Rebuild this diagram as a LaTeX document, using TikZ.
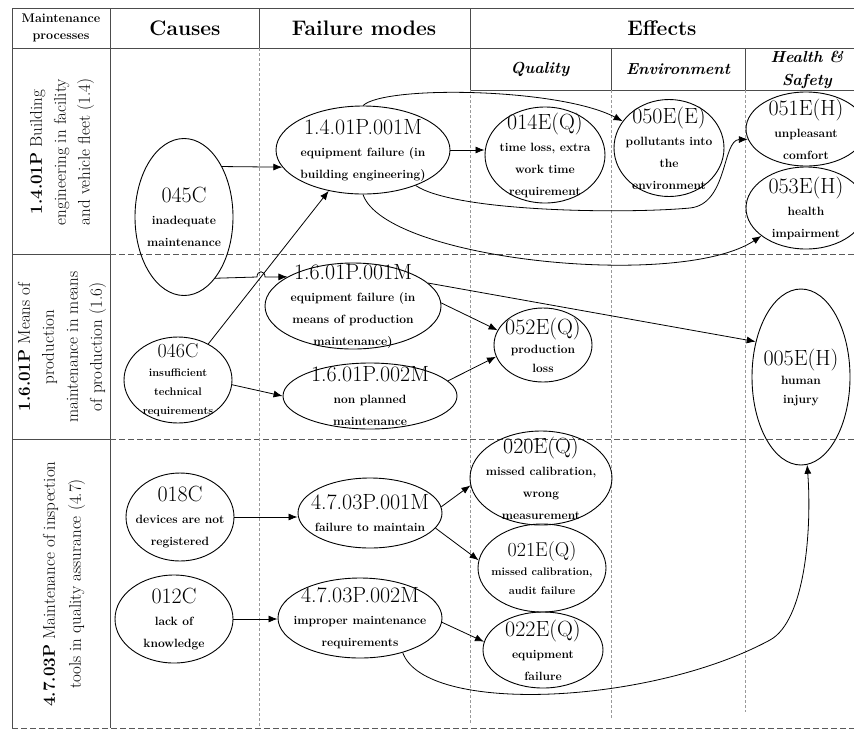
\documentclass[tikz,border=0pt]{standalone}
\usepackage{fontspec}
\usepackage{tikz}
\usetikzlibrary{arrows.meta}
\usetikzlibrary{shapes.geometric}

\newcommand{\idno}[2][22]{{\fontsize{#1}{22}\selectfont\mdseries #2}}

\tikzset{
  ell/.style 2 args={draw, ellipse, inner sep=0pt, line width=0.9pt, minimum width=#1, minimum height=#2},
  txt/.style={align=center, inner sep=0pt, font=\fontsize{12}{22}\selectfont\bfseries},
  txtnar/.style={align=center, inner sep=0pt, font=\fontsize{12}{19}\selectfont\bfseries},
  txtsm/.style={align=center, inner sep=0pt, font=\fontsize{11}{19}\selectfont\bfseries},
  arr/.style={line width=0.8pt, -{Latex[length=9pt,width=7pt]}},
  frame/.style={draw=black!70, line width=0.8pt},
  rowsep/.style={draw=black!65, dash pattern=on 6pt off 3pt, line width=0.7pt},
  colsep/.style={draw=black!40, dash pattern=on 3pt off 2pt, line width=0.4pt},
  proc/.style={rotate=90, align=center, inner sep=0pt, font=\fontsize{17}{24}\selectfont},
  head/.style={font=\fontsize{21}{24}\selectfont\bfseries},
  subhead/.style={align=center, font=\fontsize{16}{23}\selectfont\bfseries\itshape},
}

\begin{document}
\begin{tikzpicture}[x=1pt, y=-1pt]
        \useasboundingbox (0,0) rectangle (854,729);
        \clip (0,0) rectangle (854,729);
        \fill[white] (0,0) rectangle (854,729);

        % table
        \draw[frame] (12,8) -- (854,8);
        \draw[frame] (12,48) -- (854,48);
        \draw[frame] (12,8) -- (12,728);
        \draw[frame] (110,8) -- (110,728);
        \draw[frame] (259,8) -- (259,48);
        \draw[frame] (470,8) -- (470,90);
        \draw[frame] (470,90) -- (854,90);
        \draw[frame] (611,48) -- (611,90);
        \draw[frame] (745,48) -- (745,90);
        \draw[frame] (12,254) -- (110,254);
        \draw[frame] (12,439) -- (110,439);
        \draw[rowsep] (110,254) -- (854,254);
        \draw[rowsep] (110,439) -- (854,439);
        \draw[rowsep] (12,728) -- (854,728);
        \draw[colsep] (259,48) -- (259,726);
        \draw[colsep] (470,90) -- (470,725);
        \draw[colsep] (611,90) -- (611,718);
        \draw[colsep] (745,90) -- (745,712);

        \node[align=center, font=\fontsize{12.5}{17}\selectfont\bfseries] (hproc) at (61,28) {Maintenance\\processes};
        \node[head] (hcause) at (185,28) {Causes};
        \node[head] (hfail) at (364,28) {Failure modes};
        \node[head] (heff) at (662,28) {Effects};
        \node[subhead] (hqual) at (540,69) {Quality};
        \node[subhead] (henv) at (678,69) {Environment};
        \node[subhead] (hhs) at (807,70) {Health \&\\Safety};

        \node[proc] (p14) at (62,152) {\textbf{1.4.01P} Building\\engineering in facility\\and vehicle fleet (1.4)};
        \node[proc] (p16) at (62,347) {\textbf{1.6.01P} Means of\\production\\maintenance in means\\of production (1.6)};
        \node[proc, font=\fontsize{17}{26}\selectfont] (p47) at (64,584) {\textbf{4.7.03P} Maintenance of inspection\\tools in quality assurance (4.7)};

        % causes
        \node[ell={98}{157}, label={[txt]center:{\idno{045C}\\inadequate\\maintenance}}] (c045) at (184,217) {};
        \node[ell={108}{86}, label={[txtsm]center:{\idno[20]{046C}\\insufficient\\technical\\requirements}}] (c046) at (178,380) {};
        \node[ell={108}{88}, label={[txt]center:{\idno{018C}\\devices are not\\registered}}] (c018) at (180,517) {};
        \node[ell={118}{88}, label={[txt]center:{\idno{012C}\\lack of\\knowledge}}] (c012) at (174,619) {};

        % failure modes
        \node[ell={174}{88}, label={[txt]center:{\idno{1.4.01P.001M}\\equipment failure (in\\building engineering)}}] (m141) at (363,150) {};
        \node[ell={176}{86}, label={[txt]center:{\idno{1.6.01P.001M}\\equipment failure (in\\means of production\\maintenance)}}] (m161) at (353,306) {};
        \node[ell={174}{66}, label={[txt]center:{\idno{1.6.01P.002M}\\non planned\\maintenance}}] (m162) at (370,396) {};
        \node[ell={144}{70}, label={[txt]center:{\idno{4.7.03P.001M}\\failure to maintain}}] (m471) at (370,513) {};
        \node[ell={164}{80}, label={[txt]center:{\idno{4.7.03P.002M}\\improper maintenance\\requirements}}] (m472) at (360,618) {};

        % effects
        \node[ell={120}{96}, label={[txt]center:{\idno{014E(Q)}\\time loss, extra\\work time\\requirement}}] (e014) at (545,155) {};
        \node[ell={110}{97}, label={[txt]center:{\idno{050E(E)}\\pollutants into\\the\\environment}}] (e050) at (669,148) {};
        \node[ell={120}{74}, label={[txt]center:{\idno{051E(H)}\\unpleasant\\comfort}}] (e051) at (806,129) {};
        \node[ell={120}{82}, label={[txt]center:{\idno{053E(H)}\\health\\impairment}}] (e053) at (806,208) {};
        \node[ell={98}{74}, label={[txtnar]center:{\idno{052E(Q)}\\production\\loss}}] (e052) at (543,345) {};
        \node[ell={98}{176}, label={[txtnar]center:{\idno{005E(H)}\\human\\injury}}] (e005) at (801,377) {};
        \node[ell={142}{94}, label={[txt]center:{\idno{020E(Q)}\\missed calibration,\\wrong\\measurement}}] (e020) at (541,478) {};
        \node[ell={128}{88}, label={[txtsm]center:{\idno[20]{021E(Q)}\\missed calibration,\\audit failure}}] (e021) at (542,568) {};
        \node[ell={120}{76}, label={[txt]center:{\idno{022E(Q)}\\equipment\\failure}}] (e022) at (543,650) {};

        \draw[arr] (c045.53) -- (m141.192);
        \draw[arr] (m141.east) -- (m141.east -| e014.west);
        \draw[arr] (m141.north) .. controls (385,85) and (560,88) .. (e050.150);
        \draw[arr] (m141.-34) .. controls (455,212) and (625,214) .. (690,208) .. controls (728,204) and (722,140) .. (e051.190);
        \draw[arr] (m141.south) .. controls (385,260) and (680,290) .. (e053.212);

        \draw[arr] (c046.50) -- (m141.230);
        \draw[arr] (c045.-63) -- (257,277) .. controls (257,270) and (265,270) .. (265,277) -- (m161.156);
        \draw[arr] (c046.-5) -- (m162.west);
        \draw[arr] (m161.2) -- (e052.162);
        \draw[arr] (m161.17) -- (e005.142);
        \draw[arr] (m162.11) -- (e052.194);

        \draw[arr] (c018.east) -- (c018.east -| m471.west);
        \draw[arr] (c012.east) -- (c012.east -| m472.west);
        \draw[arr] (m471.5) -- (e020.186);
        \draw[arr] (m471.-13) -- (e021.173);
        \draw[arr] (m472.-3) -- (e022.172);
        \draw[arr] (m472.-39) .. controls (425,715) and (650,705) .. (770,640) .. controls (805,621) and (812,530) .. (e005.-86);
    \end{tikzpicture}
\end{document}
